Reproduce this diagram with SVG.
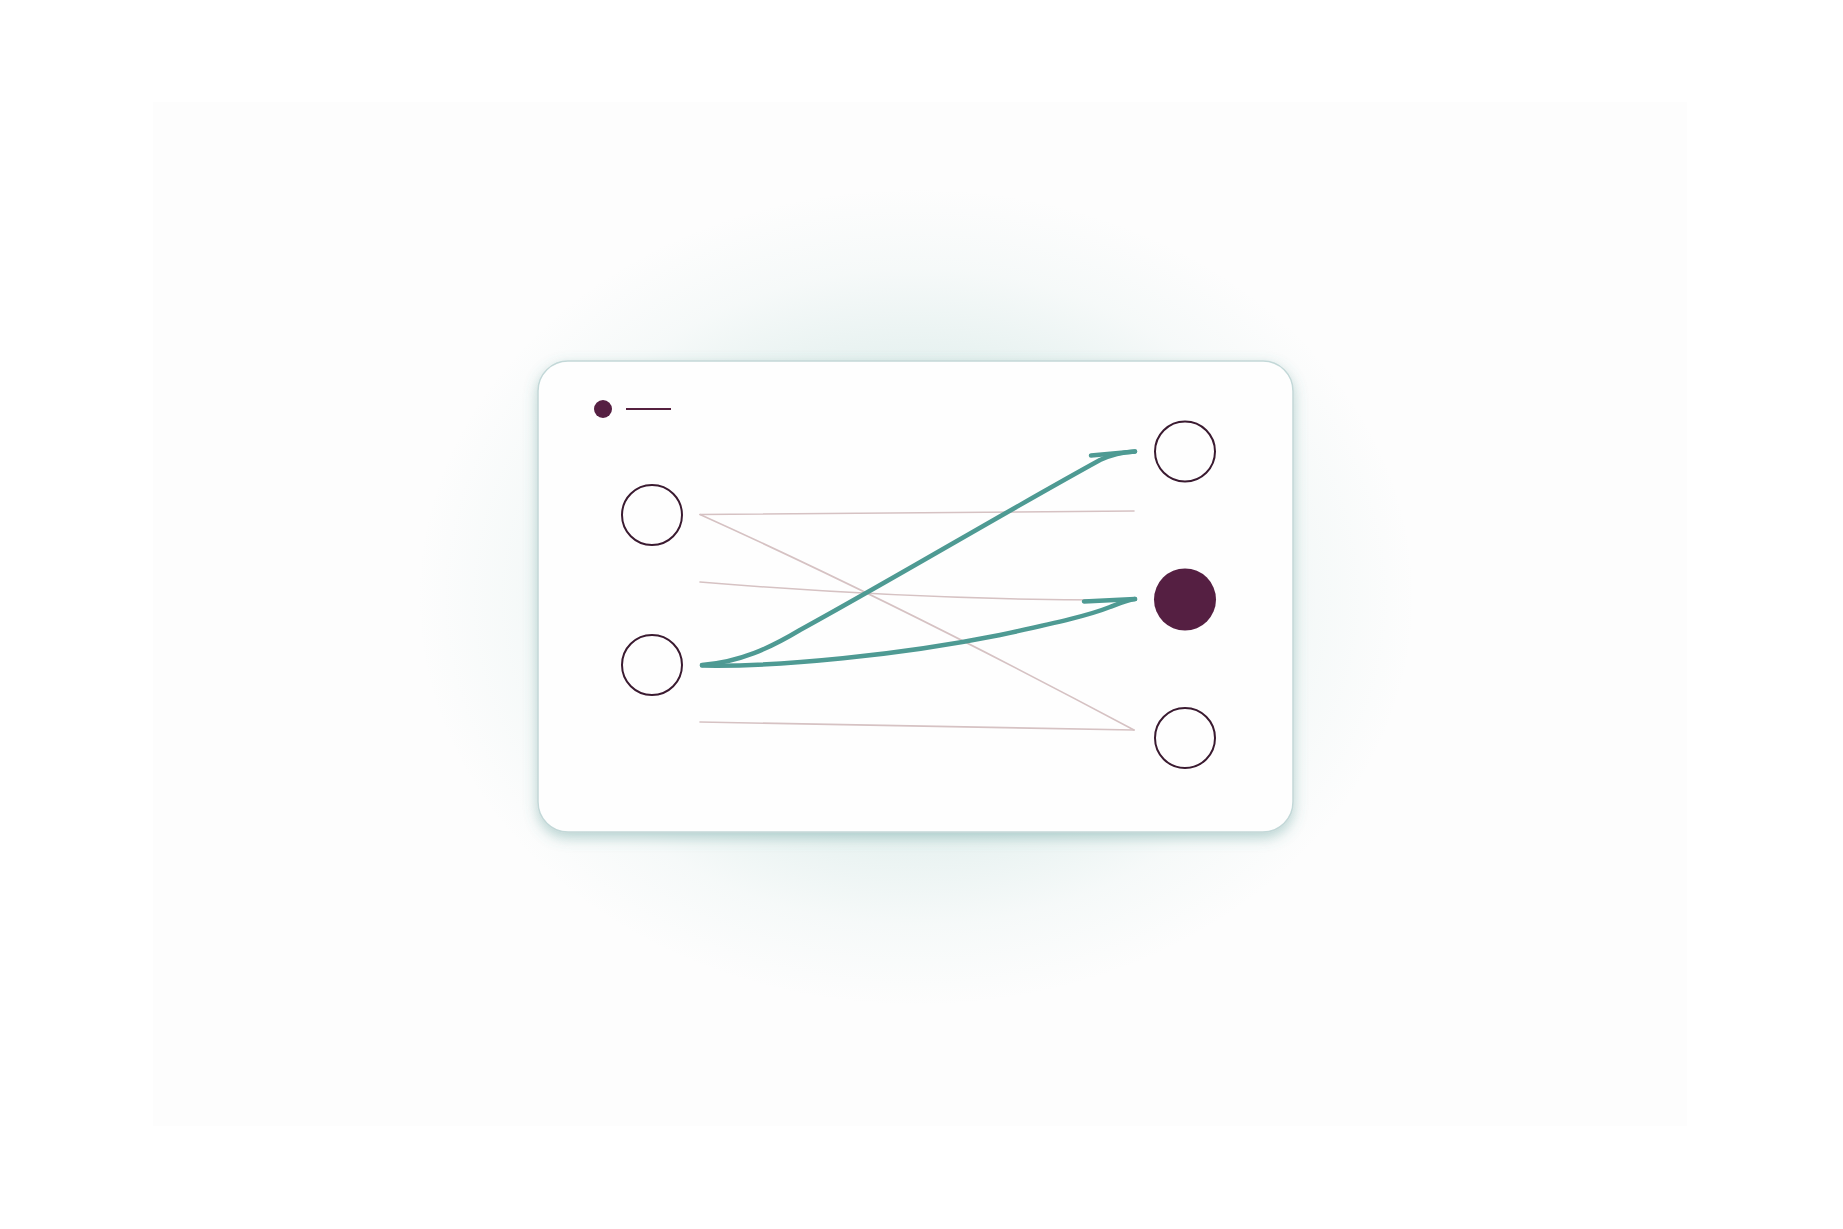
<svg xmlns="http://www.w3.org/2000/svg" width="1843" height="1229" viewBox="0 0 1843 1229">
<defs>
<radialGradient id="glow" cx="916" cy="597" r="500" gradientUnits="userSpaceOnUse" gradientTransform="translate(916 597) scale(1 0.82) translate(-916 -597)">
<stop offset="0" stop-color="#6fb3ab" stop-opacity="0.32"/>
<stop offset="0.55" stop-color="#6fb3ab" stop-opacity="0.17"/>
<stop offset="0.8" stop-color="#6fb3ab" stop-opacity="0.05"/>
<stop offset="1" stop-color="#6fb3ab" stop-opacity="0"/>
</radialGradient>
<filter id="shadow" x="-20%" y="-20%" width="140%" height="150%">
<feDropShadow dx="0" dy="5" stdDeviation="7" flood-color="#4f948f" flood-opacity="0.4"/>
</filter>
<style>
.node{fill:#fefefe;stroke:#3a1a30;stroke-width:2}
.filled{fill:#551f42;stroke:none}
.faint{fill:none;stroke:#d6c2c3;stroke-width:1.6;stroke-linecap:round}
.hl{fill:none;stroke:#4e9a93;stroke-width:4.5;stroke-linecap:round;stroke-linejoin:round}
</style>
</defs>
<rect width="1843" height="1229" fill="#ffffff"/>
<rect x="153" y="102" width="1534" height="1024" fill="#fdfdfd"/>
<rect x="300" y="150" width="1232" height="900" fill="url(#glow)"/>
<g id="card">
<rect x="538" y="361" width="755" height="471" rx="30" fill="#fefefe" stroke="#c3d8d8" stroke-width="1.5" filter="url(#shadow)"/>
</g>
<g id="legend">
<circle cx="603" cy="409" r="9" class="filled"/>
<line x1="626" y1="409" x2="671" y2="409" stroke="#55203f" stroke-width="2"/>
</g>
<g id="connectors">
<path class="faint" d="M700,514.5 L1134,511"/>
<path class="faint" d="M700,514.5 Q900,605 1134,730"/>
<path class="faint" d="M700,582 Q930,601 1134,600"/>
<path class="faint" d="M700,722 L1134,730"/>
<path class="hl" d="M702,665 C740,662 770,648 800,630 C900,575 1000,515 1100,460 C1115,453 1125,452 1135,451.5"/>
<path class="hl" d="M1091,455.5 L1135,451.5"/>
<path class="hl" d="M702,665.5 C780,667 900,655 1000,635 C1060,622 1090,615 1110,607 C1120,603 1127,600 1135,599"/>
<path class="hl" d="M1084,601.5 L1135,599"/>
</g>
<g id="node-l1"><circle cx="652" cy="515" r="30" class="node"/></g>
<g id="node-l2"><circle cx="652" cy="665" r="30" class="node"/></g>
<g id="node-r1"><circle cx="1185" cy="451.5" r="30" class="node"/></g>
<g id="node-r2"><circle cx="1185" cy="599.5" r="31" class="filled"/></g>
<g id="node-r3"><circle cx="1185" cy="738" r="30" class="node"/></g>
</svg>
